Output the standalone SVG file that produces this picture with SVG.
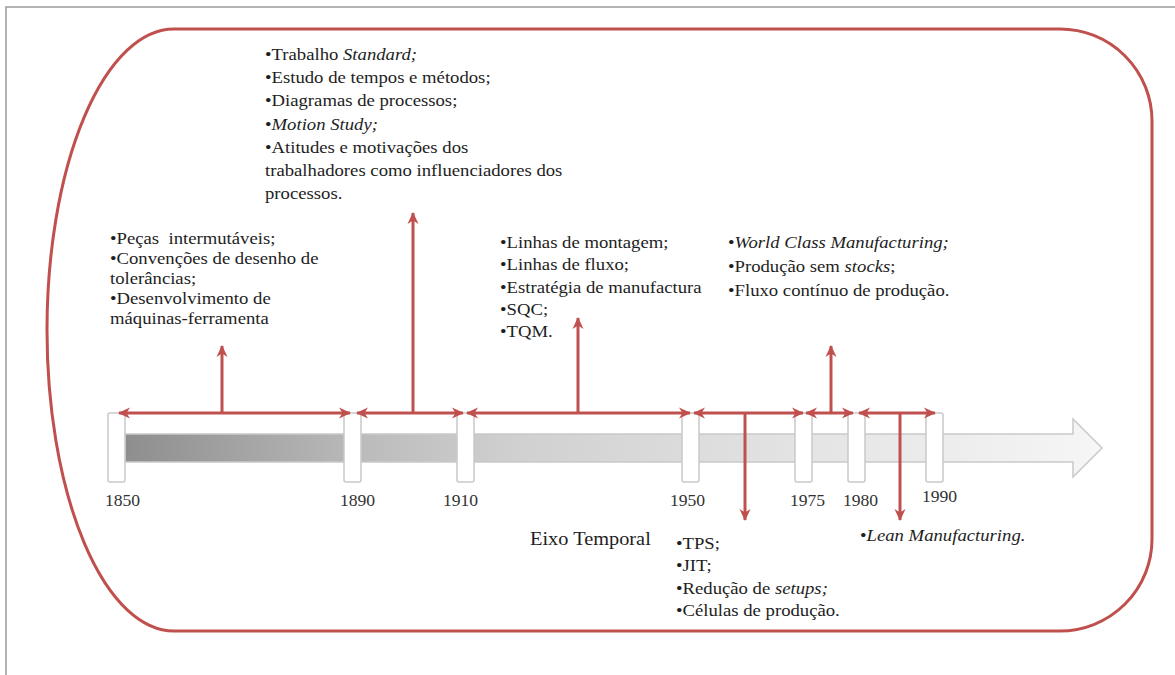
<svg xmlns="http://www.w3.org/2000/svg" width="1175" height="675" viewBox="0 0 1175 675">
  <style>
    .txt { font-family: "Liberation Serif", "Times New Roman", serif; font-size: 17px; fill: #1e1e1e; }
    .yr { font-family: "Liberation Serif", "Times New Roman", serif; font-size: 16px; fill: #333; }
    .it { font-style: italic; }
    .conn { stroke: #c0504d; stroke-width: 3; fill: none; }
    .tick { fill: #ffffff; stroke: #c9c9c9; stroke-width: 1.5; }
  </style>
  <defs>
    <linearGradient id="axisFill" x1="125" y1="0" x2="1102" y2="0" gradientUnits="userSpaceOnUse">
      <stop offset="0" stop-color="#8e8e8e"/>
      <stop offset="0.25" stop-color="#bcbcbc"/>
      <stop offset="0.4" stop-color="#d0d0d0"/>
      <stop offset="0.7" stop-color="#e4e4e4"/>
      <stop offset="1" stop-color="#f6f6f6"/>
    </linearGradient>
    <marker id="head" viewBox="0 0 14 14" refX="12" refY="7" markerWidth="14" markerHeight="14" markerUnits="userSpaceOnUse" orient="auto-start-reverse">
      <path d="M1,1.5 L13,7 L1,12.5 L4.5,7 Z" fill="#c0504d"/>
    </marker>
  </defs>

  <rect width="1175" height="675" fill="#ffffff"/>
  <!-- page border -->
  <path d="M6,675 V7 H1175" fill="none" stroke="#9a9a9a" stroke-width="1.5"/>

  <!-- rounded frame -->
  <path id="frame" d="M174,29 H1060 A92,92 0 0 1 1152,121 V539 A92,92 0 0 1 1060,631 H174 A127,301 0 0 1 47,330 A127,301 0 0 1 174,29 Z" fill="none" stroke="#c0504d" stroke-width="3"/>

  <!-- time axis -->
  <g id="axis">
    <path d="M125,434 H1073 V419 L1102,448 L1073,477 V462 H125 Z" fill="url(#axisFill)" stroke="#c9c9c9" stroke-width="1.5"/>
    <rect class="tick" x="108" y="413" width="17" height="69" rx="2"/>
    <rect class="tick" x="344" y="413" width="17" height="69" rx="2"/>
    <rect class="tick" x="457" y="413" width="17" height="69" rx="2"/>
    <rect class="tick" x="682" y="413" width="17" height="69" rx="2"/>
    <rect class="tick" x="795" y="413" width="17" height="69" rx="2"/>
    <rect class="tick" x="848" y="413" width="17" height="69" rx="2"/>
    <rect class="tick" x="926" y="413" width="17" height="69" rx="2"/>
  </g>

  <g id="years">
    <text class="yr" transform="translate(105,506) scale(1.1,1)">1850</text>
    <text class="yr" transform="translate(340,506) scale(1.1,1)">1890</text>
    <text class="yr" transform="translate(443,506) scale(1.1,1)">1910</text>
    <text class="yr" transform="translate(670,506) scale(1.1,1)">1950</text>
    <text class="yr" transform="translate(790,506) scale(1.1,1)">1975</text>
    <text class="yr" transform="translate(843,506) scale(1.1,1)">1980</text>
    <text class="yr" transform="translate(922,502) scale(1.1,1)">1990</text>
  </g>

  <!-- connectors -->
  <g id="connectors" class="conn">
    <line x1="119" y1="413" x2="350" y2="413" marker-start="url(#head)" marker-end="url(#head)"/>
    <line x1="357" y1="413" x2="463" y2="413" marker-start="url(#head)" marker-end="url(#head)"/>
    <line x1="467" y1="413" x2="690" y2="413" marker-start="url(#head)" marker-end="url(#head)"/>
    <line x1="694" y1="413" x2="803" y2="413" marker-start="url(#head)" marker-end="url(#head)"/>
    <line x1="806" y1="413" x2="853" y2="413" marker-start="url(#head)" marker-end="url(#head)"/>
    <line x1="859" y1="413" x2="935" y2="413" marker-start="url(#head)" marker-end="url(#head)"/>
    <line x1="222" y1="413" x2="222" y2="346" marker-end="url(#head)"/>
    <line x1="413" y1="413" x2="413" y2="213" marker-end="url(#head)"/>
    <line x1="578" y1="413" x2="578" y2="318" marker-end="url(#head)"/>
    <line x1="745" y1="413" x2="745" y2="520" marker-end="url(#head)"/>
    <line x1="831" y1="413" x2="831" y2="346" marker-end="url(#head)"/>
    <line x1="900" y1="413" x2="900" y2="520" marker-end="url(#head)"/>
  </g>

  <g id="period-1850">
    <text class="txt" transform="translate(110,244) scale(1.1,1)">
      <tspan x="0" y="0">•Peças&#160; intermutáveis;</tspan>
      <tspan x="0" y="20">•Convenções de desenho de</tspan>
      <tspan x="0" y="40">tolerâncias;</tspan>
      <tspan x="0" y="60">•Desenvolvimento de</tspan>
      <tspan x="0" y="80">máquinas-ferramenta</tspan>
    </text>
  </g>

  <g id="period-1890">
    <text class="txt" transform="translate(265,60) scale(1.1,1)">
      <tspan x="0" y="0">•Trabalho <tspan class="it">Standard;</tspan></tspan>
      <tspan x="0" y="23.2">•Estudo de tempos e métodos;</tspan>
      <tspan x="0" y="46.4">•Diagramas de processos;</tspan>
      <tspan x="0" y="69.6">•<tspan class="it">Motion Study;</tspan></tspan>
      <tspan x="0" y="92.8">•Atitudes e motivações dos</tspan>
      <tspan x="0" y="116">trabalhadores como influenciadores dos</tspan>
      <tspan x="0" y="139.2">processos.</tspan>
    </text>
  </g>

  <g id="period-1910">
    <text class="txt" transform="translate(500,248) scale(1.1,1)">
      <tspan x="0" y="0">•Linhas de montagem;</tspan>
      <tspan x="0" y="22.3">•Linhas de fluxo;</tspan>
      <tspan x="0" y="44.6">•Estratégia de manufactura</tspan>
      <tspan x="0" y="66.9">•SQC;</tspan>
      <tspan x="0" y="89.2">•TQM.</tspan>
    </text>
  </g>

  <g id="period-1950">
    <text class="txt" transform="translate(676,549) scale(1.1,1)">
      <tspan x="0" y="0">•TPS;</tspan>
      <tspan x="0" y="22.3">•JIT;</tspan>
      <tspan x="0" y="44.6">•Redução de <tspan class="it">setups;</tspan></tspan>
      <tspan x="0" y="66.9">•Células de produção.</tspan>
    </text>
  </g>

  <g id="period-1975">
    <text class="txt" transform="translate(728,248) scale(1.1,1)">
      <tspan x="0" y="0">•<tspan class="it">World Class Manufacturing;</tspan></tspan>
      <tspan x="0" y="24">•Produção sem <tspan class="it">stocks</tspan>;</tspan>
      <tspan x="0" y="48">•Fluxo contínuo de produção.</tspan>
    </text>
  </g>

  <g id="period-1980">
    <text class="txt" transform="translate(860,541) scale(1.1,1)">•<tspan class="it">Lean Manufacturing.</tspan></text>
  </g>

  <g id="axis-label">
    <text class="txt" style="font-size:18.5px" transform="translate(530,545) scale(1.1,1)">Eixo Temporal</text>
  </g>
</svg>
